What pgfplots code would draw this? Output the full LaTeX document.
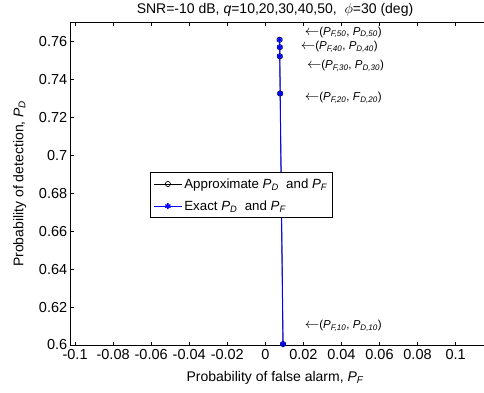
\documentclass[border=0pt]{standalone}
\usepackage{pgfplots}
\pgfplotsset{compat=1.18}
\usepackage{fontspec}
\setmainfont{Liberation Sans}
\newcommand{\sub}[1]{\textsubscript{\itshape #1}}
\newcommand{\PS}[1]{\textit{P}\sub{#1}}
\newcommand{\FS}[1]{\textit{F}\sub{#1}}
\newcommand{\arr}{{\fontsize{15}{15}\selectfont$\leftarrow$}}
\begin{document}
\begin{tikzpicture}
\begin{axis}[
  scale only axis, width=423.5pt, height=322.7pt,
  xmin=-0.1023, xmax=0.1203, ymin=0.6, ymax=0.77,
  xtick={-0.1,-0.08,-0.06,-0.04,-0.02,0,0.02,0.04,0.06,0.08,0.1},
  xticklabels={-0.1,-0.08,-0.06,-0.04,-0.02,0,0.02,0.04,0.06,0.08,0.1},
  ytick={0.6,0.62,0.64,0.66,0.68,0.7,0.72,0.74,0.76},
  yticklabels={0.6,0.62,0.64,0.66,0.68,0.7,0.72,0.74,0.76},
  tick align=inside, xtick pos=both, ytick pos=both, major tick length=3.5pt,
  axis line style={line width=0.8pt},
  tick style={line width=0.6pt, black},
  ticklabel style={font=\fontsize{14.5}{16}\selectfont},
  xticklabel style={yshift=-1pt},
  clip=false,
  legend cell align=left,
  legend style={at={(0.1872,0.5361)}, anchor=north west,
    font=\fontsize{13.3}{15}\selectfont, draw=black, line width=0.8pt,
    inner xsep=3pt, inner ysep=4pt, row sep=7pt},
  legend image code/.code={\draw[mark repeat=2,mark phase=2] plot coordinates {(0pt,0pt) (14pt,0pt) (28pt,0pt)};},
]
\addplot[black, line width=0.7pt, mark=o, mark size=2.6pt, mark options={line width=0.7pt}]
  coordinates {(0.0093,0.6005) (0.0078,0.7325) (0.0076,0.7521) (0.0076,0.7569) (0.0075,0.7608)};
\addlegendentry{Approximate \PS{D} \ and \PS{F}}
\addplot[blue, line width=1pt, mark=asterisk, mark size=3pt, mark options={line width=1.3pt}]
  coordinates {(0.0093,0.6005) (0.0078,0.7325) (0.0076,0.7521) (0.0076,0.7569) (0.0075,0.7608)};
\addlegendentry{Exact \PS{D} \ and \PS{F}}
\node[anchor=west, inner sep=0pt, font=\fontsize{11.5}{13}\selectfont] at (axis cs:0.0207,0.7647) {\arr(\PS{F,50}, \PS{D,50})};
\node[anchor=west, inner sep=0pt, font=\fontsize{11.5}{13}\selectfont] at (axis cs:0.0186,0.7569) {\arr(\PS{F,40}, \PS{D,40})};
\node[anchor=west, inner sep=0pt, font=\fontsize{11.5}{13}\selectfont] at (axis cs:0.0218,0.7469) {\arr(\PS{F,30}, \PS{D,30})};
\node[anchor=west, inner sep=0pt, font=\fontsize{11.5}{13}\selectfont] at (axis cs:0.0207,0.7303) {\arr(\PS{F,20}, \FS{D,20})};
\node[anchor=west, inner sep=0pt, font=\fontsize{11.5}{13}\selectfont] at (axis cs:0.0207,0.6101) {\arr(\PS{F,10}, \PS{D,10})};
\end{axis}
\node[font=\fontsize{14}{15}\selectfont] at (204.3pt,335pt) {SNR=-10 dB, \textit{q}=10,20,30,40,50, \ $\phi$=30 (deg)};
\node[font=\fontsize{14}{15}\selectfont] at (204.3pt,-33pt) {Probability of false alarm, \PS{F}};
\node[font=\fontsize{14}{15}\selectfont, rotate=90] at (-51pt,161.35pt) {Probability of detection, \PS{D}};
\pgfresetboundingbox
\path[use as bounding box] (-70.7pt,-47pt) rectangle (413.3pt,345pt);
\end{tikzpicture}
\end{document}
